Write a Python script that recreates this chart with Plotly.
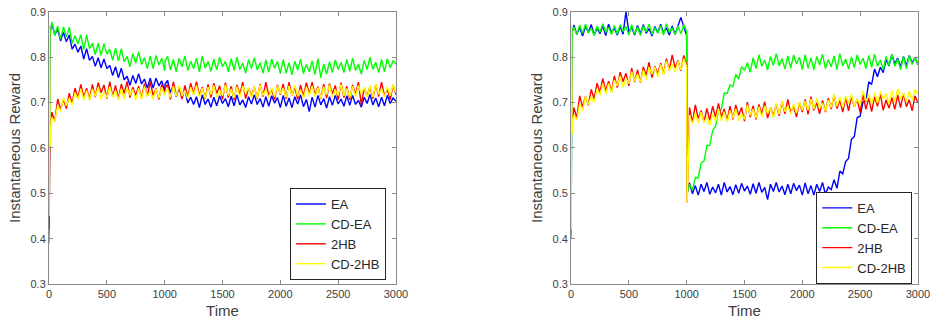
import plotly.graph_objects as go

# time grid (sample times)
time = [1, 4, 8, 15] + list(range(25, 1001, 25)) + [1004] + list(range(1025, 3001, 25))

series_names = ["EA", "CD-EA", "2HB", "CD-2HB"]

# ---------------- left panel ----------------
left_ea = [0.41, 0.80, 0.855, 0.862,
    0.875, 0.849, 0.862, 0.836, 0.855, 0.834, 0.849, 0.818, 0.829, 0.811,
    0.825, 0.796, 0.819, 0.793, 0.802, 0.780, 0.799, 0.777, 0.796, 0.775,
    0.782, 0.760, 0.779, 0.755, 0.776, 0.750, 0.758, 0.738, 0.760, 0.742,
    0.764, 0.741, 0.752, 0.732, 0.754, 0.732, 0.754, 0.737, 0.748, 0.724,
    0.741,
    0.749, 0.722, 0.737, 0.713, 0.733, 0.713, 0.729, 0.699, 0.712, 0.696,
    0.713, 0.689, 0.717, 0.696, 0.708, 0.690, 0.712, 0.693, 0.715, 0.698,
    0.709, 0.691, 0.714, 0.693, 0.717, 0.695, 0.706, 0.689, 0.713, 0.697,
    0.717, 0.696, 0.709, 0.690, 0.713, 0.692, 0.715, 0.699, 0.711, 0.689,
    0.716, 0.692, 0.710, 0.689, 0.713, 0.697, 0.717, 0.691, 0.707, 0.680,
    0.712, 0.690, 0.716, 0.695, 0.709, 0.688, 0.713, 0.694, 0.716, 0.697,
    0.708, 0.692, 0.715, 0.694, 0.716, 0.696, 0.705, 0.690, 0.712, 0.698,
    0.718, 0.695, 0.710, 0.691, 0.712, 0.693, 0.716, 0.698, 0.710, 0.703]

left_cdea = [0.39, 0.80, 0.848, 0.858,
    0.878, 0.848, 0.869, 0.840, 0.867, 0.845, 0.866, 0.831, 0.848, 0.829,
    0.850, 0.817, 0.849, 0.819, 0.831, 0.806, 0.831, 0.804, 0.830, 0.807,
    0.818, 0.793, 0.820, 0.792, 0.819, 0.790, 0.802, 0.779, 0.808, 0.787,
    0.812, 0.784, 0.799, 0.775, 0.803, 0.775, 0.804, 0.783, 0.798, 0.770,
    0.792,
    0.802, 0.772, 0.795, 0.768, 0.798, 0.779, 0.803, 0.771, 0.791, 0.775,
    0.798, 0.768, 0.803, 0.776, 0.791, 0.769, 0.796, 0.772, 0.800, 0.779,
    0.791, 0.768, 0.797, 0.771, 0.800, 0.773, 0.787, 0.765, 0.795, 0.775,
    0.799, 0.772, 0.788, 0.765, 0.794, 0.767, 0.796, 0.776, 0.791, 0.764,
    0.795, 0.765, 0.788, 0.761, 0.791, 0.772, 0.796, 0.764, 0.784, 0.768,
    0.792, 0.762, 0.797, 0.755, 0.785, 0.763, 0.790, 0.766, 0.794, 0.773,
    0.789, 0.766, 0.795, 0.769, 0.798, 0.771, 0.785, 0.763, 0.793, 0.773,
    0.800, 0.773, 0.789, 0.766, 0.795, 0.768, 0.797, 0.777, 0.792, 0.785]

left_2hb = [0.42, 0.62, 0.635, 0.65,
    0.679, 0.659, 0.708, 0.685, 0.707, 0.687, 0.721, 0.698, 0.732, 0.711,
    0.740, 0.712, 0.732, 0.707, 0.740, 0.712, 0.744, 0.722, 0.739, 0.709,
    0.746, 0.713, 0.738, 0.708, 0.741, 0.720, 0.747, 0.711, 0.734, 0.716,
    0.736, 0.710, 0.742, 0.714, 0.746, 0.716, 0.731, 0.707, 0.740, 0.718,
    0.732,
    0.740, 0.707, 0.746, 0.716, 0.733, 0.708, 0.738, 0.712, 0.743, 0.719,
    0.746, 0.716, 0.734, 0.708, 0.740, 0.711, 0.743, 0.720, 0.737, 0.707,
    0.744, 0.711, 0.736, 0.706, 0.739, 0.718, 0.745, 0.709, 0.732, 0.714,
    0.735, 0.709, 0.741, 0.713, 0.745, 0.715, 0.730, 0.706, 0.739, 0.717,
    0.741, 0.708, 0.745, 0.715, 0.734, 0.707, 0.739, 0.713, 0.744, 0.718,
    0.745, 0.717, 0.735, 0.709, 0.741, 0.710, 0.742, 0.719, 0.738, 0.706,
    0.744, 0.711, 0.736, 0.706, 0.739, 0.718, 0.745, 0.695, 0.732, 0.714,
    0.735, 0.709, 0.741, 0.713, 0.745, 0.715, 0.730, 0.706, 0.739, 0.717]

left_cd2hb = [0.45, 0.87, 0.60, 0.63,
    0.667, 0.659, 0.694, 0.680, 0.711, 0.693, 0.709, 0.695, 0.722, 0.707,
    0.730, 0.706, 0.727, 0.705, 0.730, 0.714, 0.734, 0.707, 0.724, 0.711,
    0.735, 0.712, 0.726, 0.706, 0.731, 0.708, 0.733, 0.716, 0.729, 0.706,
    0.732, 0.707, 0.736, 0.713, 0.726, 0.707, 0.730, 0.710, 0.734, 0.716,
    0.722,
    0.731, 0.711, 0.736, 0.714, 0.738, 0.715, 0.727, 0.709, 0.734, 0.717,
    0.738, 0.712, 0.732, 0.709, 0.734, 0.718, 0.738, 0.711, 0.728, 0.715,
    0.739, 0.716, 0.730, 0.710, 0.735, 0.712, 0.737, 0.720, 0.733, 0.710,
    0.735, 0.710, 0.739, 0.716, 0.729, 0.710, 0.733, 0.713, 0.737, 0.719,
    0.732, 0.712, 0.737, 0.715, 0.739, 0.714, 0.728, 0.710, 0.735, 0.716,
    0.737, 0.713, 0.733, 0.710, 0.735, 0.717, 0.739, 0.712, 0.729, 0.716,
    0.740, 0.715, 0.731, 0.711, 0.736, 0.713, 0.738, 0.719, 0.734, 0.711,
    0.737, 0.712, 0.741, 0.718, 0.731, 0.712, 0.735, 0.715, 0.739, 0.722]

# ---------------- right panel ----------------
right_ea = [0.41, 0.84, 0.855, 0.86,
    0.871, 0.850, 0.866, 0.847, 0.868, 0.855, 0.872, 0.849, 0.864, 0.852,
    0.869, 0.848, 0.873, 0.854, 0.864, 0.849, 0.868, 0.851, 0.900, 0.856,
    0.866, 0.849, 0.870, 0.852, 0.872, 0.853, 0.863, 0.847, 0.868, 0.854,
    0.873, 0.854, 0.865, 0.849, 0.869, 0.850, 0.871, 0.888, 0.867, 0.848,
    0.500,
    0.523, 0.499, 0.517, 0.496, 0.520, 0.504, 0.524, 0.498, 0.514, 0.501,
    0.520, 0.496, 0.524, 0.503, 0.515, 0.497, 0.519, 0.500, 0.522, 0.505,
    0.516, 0.498, 0.521, 0.500, 0.524, 0.502, 0.513, 0.486, 0.520, 0.504,
    0.524, 0.503, 0.516, 0.497, 0.520, 0.499, 0.522, 0.506, 0.518, 0.496,
    0.523, 0.499, 0.517, 0.496, 0.520, 0.504, 0.524, 0.498, 0.514, 0.508,
    0.530, 0.511, 0.549, 0.543, 0.570, 0.577, 0.619, 0.625, 0.667, 0.670,
    0.701, 0.703, 0.746, 0.740, 0.774, 0.757, 0.778, 0.766, 0.795, 0.781,
    0.806, 0.785, 0.798, 0.779, 0.802, 0.781, 0.804, 0.788, 0.800, 0.784]

right_cdea = [0.40, 0.83, 0.85, 0.858,
    0.867, 0.850, 0.871, 0.853, 0.873, 0.854, 0.864, 0.848, 0.869, 0.855,
    0.874, 0.855, 0.866, 0.850, 0.870, 0.851, 0.872, 0.857, 0.868, 0.849,
    0.872, 0.851, 0.867, 0.848, 0.869, 0.856, 0.873, 0.850, 0.865, 0.853,
    0.870, 0.849, 0.874, 0.855, 0.865, 0.850, 0.869, 0.852, 0.872, 0.857,
    0.500,
    0.520, 0.507, 0.535, 0.534, 0.567, 0.571, 0.605, 0.606, 0.638, 0.648,
    0.683, 0.685, 0.721, 0.720, 0.739, 0.735, 0.762, 0.752, 0.779, 0.771,
    0.788, 0.767, 0.799, 0.775, 0.806, 0.780, 0.794, 0.772, 0.802, 0.782,
    0.808, 0.781, 0.797, 0.774, 0.803, 0.776, 0.805, 0.785, 0.800, 0.773,
    0.806, 0.776, 0.799, 0.772, 0.802, 0.783, 0.807, 0.775, 0.795, 0.779,
    0.803, 0.773, 0.808, 0.781, 0.796, 0.774, 0.801, 0.777, 0.805, 0.784,
    0.798, 0.775, 0.804, 0.778, 0.807, 0.780, 0.794, 0.772, 0.802, 0.782,
    0.807, 0.780, 0.796, 0.773, 0.802, 0.775, 0.804, 0.784, 0.799, 0.785]

right_2hb = [0.87, 0.64, 0.66, 0.665,
    0.689, 0.666, 0.715, 0.690, 0.714, 0.694, 0.729, 0.708, 0.743, 0.723,
    0.753, 0.726, 0.747, 0.724, 0.759, 0.733, 0.767, 0.746, 0.765, 0.737,
    0.776, 0.745, 0.772, 0.744, 0.779, 0.760, 0.789, 0.755, 0.780, 0.764,
    0.787, 0.763, 0.797, 0.771, 0.805, 0.777, 0.793, 0.770, 0.804, 0.783,
    0.480,
    0.689, 0.656, 0.695, 0.665, 0.682, 0.657, 0.687, 0.661, 0.692, 0.668,
    0.698, 0.668, 0.686, 0.660, 0.692, 0.663, 0.695, 0.672, 0.689, 0.659,
    0.701, 0.668, 0.693, 0.663, 0.696, 0.675, 0.702, 0.666, 0.689, 0.671,
    0.697, 0.671, 0.703, 0.675, 0.707, 0.677, 0.692, 0.668, 0.701, 0.679,
    0.707, 0.674, 0.713, 0.683, 0.700, 0.675, 0.705, 0.679, 0.710, 0.686,
    0.717, 0.687, 0.705, 0.679, 0.711, 0.682, 0.714, 0.691, 0.708, 0.678,
    0.718, 0.685, 0.710, 0.680, 0.713, 0.692, 0.719, 0.683, 0.706, 0.688,
    0.711, 0.685, 0.717, 0.689, 0.721, 0.691, 0.706, 0.682, 0.715, 0.699]

right_cd2hb = [0.42, 0.87, 0.63, 0.655,
    0.672, 0.662, 0.697, 0.682, 0.714, 0.696, 0.713, 0.700, 0.730, 0.717,
    0.742, 0.719, 0.742, 0.722, 0.750, 0.737, 0.759, 0.734, 0.753, 0.742,
    0.768, 0.747, 0.763, 0.745, 0.772, 0.751, 0.778, 0.763, 0.778, 0.757,
    0.784, 0.761, 0.792, 0.771, 0.785, 0.767, 0.791, 0.772, 0.797, 0.780,
    0.480,
    0.672, 0.652, 0.677, 0.655, 0.679, 0.656, 0.668, 0.650, 0.675, 0.658,
    0.686, 0.660, 0.680, 0.657, 0.682, 0.666, 0.686, 0.659, 0.676, 0.663,
    0.695, 0.672, 0.686, 0.666, 0.691, 0.668, 0.693, 0.676, 0.689, 0.666,
    0.699, 0.674, 0.703, 0.680, 0.693, 0.674, 0.697, 0.677, 0.701, 0.683,
    0.703, 0.683, 0.708, 0.686, 0.710, 0.687, 0.699, 0.681, 0.706, 0.689,
    0.718, 0.692, 0.712, 0.689, 0.714, 0.698, 0.718, 0.691, 0.708, 0.695,
    0.726, 0.703, 0.717, 0.697, 0.722, 0.699, 0.724, 0.707, 0.720, 0.697,
    0.727, 0.702, 0.731, 0.708, 0.721, 0.702, 0.725, 0.705, 0.729, 0.718]

x_ticks = [0, 500, 1000, 1500, 2000, 2500, 3000]
y_ticks = [0.3, 0.4, 0.5, 0.6, 0.7, 0.8, 0.9]

colors = ["#0000FF", "#00FF00", "#FF0000", "#FFFF00"]
FONT = "Liberation Sans, Arial, sans-serif"

fig = go.Figure()
panels = [
    ([left_ea, left_cdea, left_2hb, left_cd2hb], "x", "y", "legend"),
    ([right_ea, right_cdea, right_2hb, right_cd2hb], "x2", "y2", "legend2"),
]
for data, xa, ya, lg in panels:
    for name, vals, col in zip(series_names, data, colors):
        assert len(vals) == len(time), (name, len(vals))
        fig.add_trace(go.Scatter(x=time, y=vals, mode="lines", name=name,
                                 line=dict(color=col, width=1.4),
                                 xaxis=xa, yaxis=ya, legend=lg))

axis_common = dict(showline=True, linecolor="#8a8a8a", linewidth=1, mirror="ticks",
                   ticks="inside", ticklen=4, tickcolor="#8a8a8a",
                   showgrid=False, zeroline=False, automargin=False,
                   ticklabeloverflow="allow",
                   tickfont=dict(size=11, color="#404040", family=FONT))
xcommon = dict(axis_common, range=[0, 3000], tickvals=x_ticks,
               title=dict(text="Time", font=dict(size=15, color="#404040", family=FONT), standoff=6))
ycommon = dict(axis_common, range=[0.3, 0.9], tickvals=y_ticks, tickformat=".1f",
               title=dict(text="Instantaneous Reward", font=dict(size=15, color="#404040", family=FONT), standoff=6))

legend_common = dict(font=dict(size=13, color="#262626", family=FONT),
                     bordercolor="#262626", borderwidth=1, bgcolor="white",
                     xanchor="right", yanchor="top", tracegroupgap=0, itemwidth=30)

fig.update_layout(
    width=930, height=322,
    margin=dict(l=0, r=0, t=0, b=0),
    paper_bgcolor="white", plot_bgcolor="white",
    font=dict(family=FONT),
    xaxis=dict(xcommon, domain=[0.0527, 0.4258], anchor="y"),
    yaxis=dict(ycommon, domain=[0.118, 0.963], anchor="x"),
    xaxis2=dict(xcommon, domain=[0.614, 0.987], anchor="y2"),
    yaxis2=dict(ycommon, domain=[0.118, 0.963], anchor="x2"),
    legend=dict(legend_common, x=0.415, y=0.416),
    legend2=dict(legend_common, x=0.981, y=0.404),
    showlegend=True,
)

fig.write_html("out.html")
